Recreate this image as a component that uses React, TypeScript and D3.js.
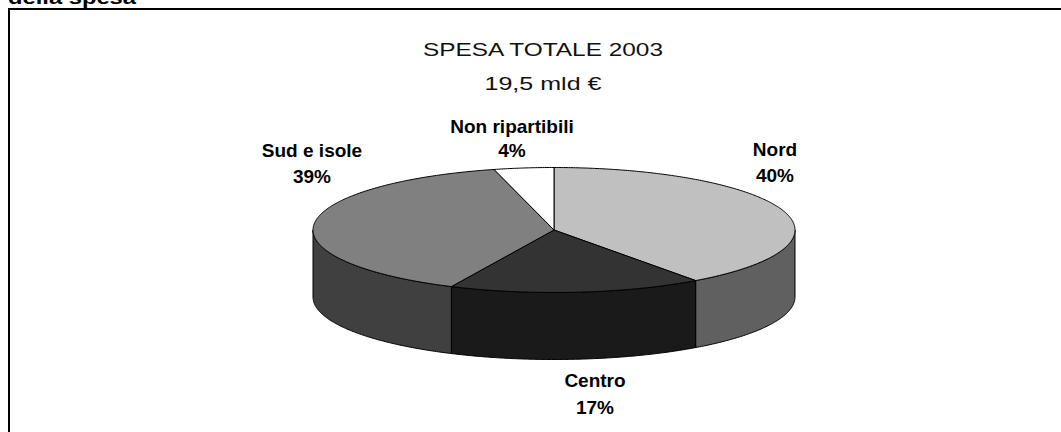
import { useRef, useEffect } from 'react';
import * as d3 from 'd3';

// Ripartizione territoriale della spesa
const regions = ['Nord', 'Centro', 'Sud e isole', 'Non ripartibili'];
const shares = [40, 17, 39, 4];
const topColors = ['#c0c0c0', '#333333', '#808080', '#ffffff'];
const sideColors = ['#606060', '#1a1a1a', '#404040', '#808080'];

const titleLines = ['SPESA TOTALE 2003', '19,5 mld €'];
const heading = 'della spesa';

export default function App() {
  const svgRef = useRef<SVGSVGElement>(null);

  useEffect(() => {
    if (!svgRef.current) return;
    const width = 1061;
    const height = 432;

    const svg = d3.select(svgRef.current);
    svg.selectAll('*').remove();
    svg.attr('width', width).attr('height', height);

    svg.append('rect').attr('width', width).attr('height', height).attr('fill', '#fff');

    // clipped heading above the frame
    svg.append('text')
      .attr('x', 8).attr('y', 3.5)
      .attr('font-family', 'Liberation Sans, Arial, sans-serif')
      .attr('font-weight', 'bold').attr('font-size', 19)
      .attr('textLength', 128).attr('lengthAdjust', 'spacingAndGlyphs')
      .text(heading);

    // frame
    svg.append('rect')
      .attr('x', 9).attr('y', 9)
      .attr('width', width + 20).attr('height', height + 20)
      .attr('fill', 'none').attr('stroke', '#000').attr('stroke-width', 2);

    // title
    const titleW = [240, 117];
    titleLines.forEach((t, i) => {
      svg.append('text')
        .attr('x', 543).attr('y', 56 + i * 34)
        .attr('text-anchor', 'middle')
        .attr('font-family', 'Liberation Sans, Arial, sans-serif')
        .attr('font-size', 19)
        .attr('fill', '#111')
        .attr('textLength', titleW[i]).attr('lengthAdjust', 'spacingAndGlyphs')
        .text(t);
    });

    // 3D pie geometry
    const cx = 554, cy = 230, rx = 241, ry = 62.5, depth = 67;
    const pt = (a: number, dy = 0): [number, number] => [cx + rx * Math.sin(a), cy - ry * Math.cos(a) + dy];

    const arcs = d3.pie<number>().sort(null).startAngle(0).endAngle(2 * Math.PI)(shares);

    const line = d3.line();
    const rim = (a0: number, a1: number, dy = 0) => {
      const n = Math.max(2, Math.ceil(Math.abs(a1 - a0) / 0.01));
      return d3.range(n + 1).map(i => pt(a0 + (a1 - a0) * i / n, dy));
    };

    const g = svg.append('g');

    // side walls (front half only)
    arcs.forEach((d, i) => {
      const a0 = Math.max(d.startAngle, Math.PI / 2);
      const a1 = Math.min(d.endAngle, Math.PI * 1.5);
      if (a1 <= a0) return;
      const pts = [...rim(a0, a1), ...rim(a1, a0, depth)];
      g.append('path')
        .attr('d', line(pts) + 'Z')
        .attr('fill', sideColors[i])
        .attr('stroke', '#000').attr('stroke-width', 1)
        .attr('stroke-linejoin', 'round');
    });

    // top faces
    arcs.forEach((d, i) => {
      const pts: [number, number][] = [[cx, cy], ...rim(d.startAngle, d.endAngle)];
      g.append('path')
        .attr('d', line(pts) + 'Z')
        .attr('fill', topColors[i])
        .attr('stroke', '#000').attr('stroke-width', 1)
        .attr('stroke-linejoin', 'round');
    });

    // labels
    const labelPos: [number, number][] = [[775, 156], [595, 387], [312, 157], [512, 133]];
    const lineGap = [26, 27, 26, 24];
    arcs.forEach((d, i) => {
      const [x, y] = labelPos[i];
      const t = svg.append('text')
        .attr('text-anchor', 'middle')
        .attr('font-family', 'Liberation Sans, Arial, sans-serif')
        .attr('font-weight', 'bold').attr('font-size', 19)
        .attr('fill', '#000');
      t.append('tspan').attr('x', x).attr('y', y).text(regions[i]);
      t.append('tspan').attr('x', x).attr('y', y + lineGap[i]).text(`${d.data}%`);
    });
  }, []);

  return <svg ref={svgRef} style={{ position: 'absolute', left: 0, top: 0, display: 'block' }} />;
}
